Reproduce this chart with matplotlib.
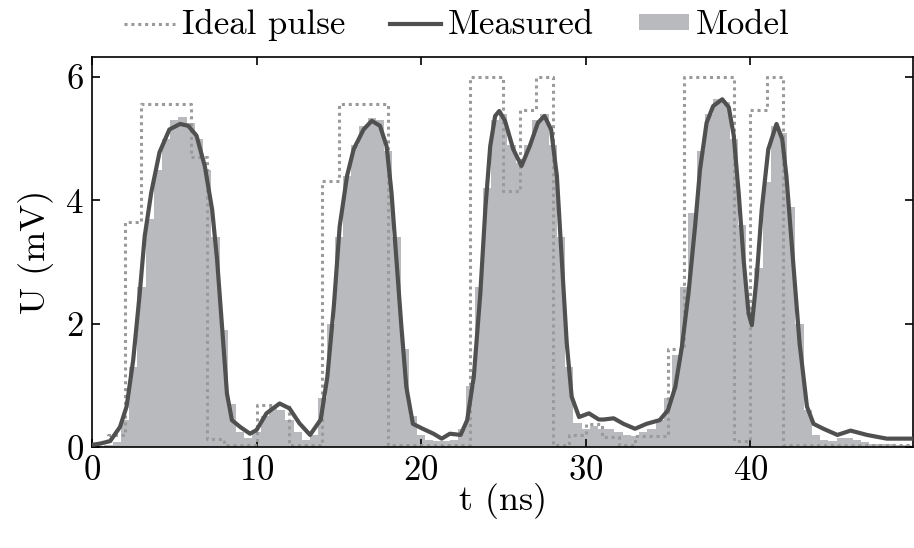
import numpy as np
import matplotlib
matplotlib.use("Agg")
import matplotlib.pyplot as plt
from matplotlib.patches import Patch
from matplotlib.lines import Line2D

plt.rcParams['font.family'] = ['cmr10', 'DejaVu Serif']
plt.rcParams['axes.formatter.use_mathtext'] = True
plt.rcParams['mathtext.fontset'] = 'cm'

# ideal pulse, 1 ns bins starting at t = 0
ideal_u = [0.0, 0.2, 3.65, 5.56, 5.56, 5.56, 4.7, 0.13, 0.03, 0.03,
           0.69, 0.69, 0.03, 0.03, 4.31, 5.56, 5.56, 5.56, 0.03, 0.03,
           0.03, 0.03, 0.03, 6.0, 6.0, 4.15, 5.46, 6.0, 0.03, 0.2,
           0.37, 0.17, 0.03, 0.19, 0.19, 1.6, 6.0, 6.0, 6.0, 0.1,
           5.46, 6.0, 0.03, 0.03, 0.03, 0.03, 0.03, 0.03, 0.03, 0.03]

# measured trace
meas_t = [0, 0.5, 1.1, 1.7, 2.1, 2.5, 2.9, 3.2, 3.6, 4.1, 4.7, 5.35, 5.85,
          6.35, 6.85, 7.3, 7.6, 7.9, 8.2, 8.5, 9.0, 9.6, 10.0, 10.6, 11.4,
          12.0, 12.6, 13.25, 13.9, 14.3, 14.7, 15.05, 15.5, 15.9, 16.5, 17.0,
          17.5, 17.9, 18.2, 18.5, 18.8, 19.1, 19.5, 20.1, 20.75, 21.25, 21.75,
          22.4, 22.8, 23.2, 23.6, 23.9, 24.2, 24.5, 24.75, 25.1, 25.6, 26.1,
          26.6, 27.1, 27.5, 27.9, 28.25, 28.55, 28.85, 29.15, 29.6, 30.2, 30.8,
          31.1, 31.7, 32.3, 33.0, 33.7, 34.5, 35.0, 35.45, 35.85, 36.25, 36.65,
          36.95, 37.35, 37.75, 38.3, 38.7, 39.0, 39.3, 39.6, 39.9, 40.1, 40.4,
          40.7, 41.1, 41.6, 41.95, 42.2, 42.6, 43.0, 43.45, 43.85, 44.45, 45.3,
          46.1, 47.1, 48.3, 49.7, 50]
meas_u = [0.04, 0.06, 0.1, 0.33, 0.66, 1.41, 2.5, 3.42, 4.13, 4.78, 5.15, 5.24,
          5.21, 5.05, 4.56, 3.85, 3.04, 1.96, 0.87, 0.44, 0.33, 0.22, 0.28, 0.55,
          0.71, 0.63, 0.39, 0.2, 0.45, 1.14, 2.3, 3.58, 4.4, 4.83, 5.15, 5.29,
          5.21, 4.88, 4.13, 3.04, 1.96, 0.98, 0.38, 0.3, 0.22, 0.14, 0.22, 0.2,
          0.44, 1.14, 2.5, 3.85, 4.88, 5.37, 5.45, 5.29, 4.83, 4.56, 4.88, 5.26,
          5.37, 5.15, 4.4, 3.04, 1.69, 0.82, 0.49, 0.55, 0.45, 0.45, 0.47, 0.38,
          0.3, 0.38, 0.44, 0.6, 0.98, 1.63, 2.5, 3.58, 4.5, 5.26, 5.53, 5.64,
          5.51, 5.05, 4.12, 3.04, 2.17, 1.98, 2.77, 3.85, 4.83, 5.24, 4.99, 4.4,
          3.04, 1.69, 0.66, 0.38, 0.3, 0.2, 0.27, 0.2, 0.14, 0.14, 0.14]

# model, 0.5 ns bins centred on t = 0, 0.5, 1.0, ...
model_u = [0.02, 0.02, 0.03, 0.08, 0.45, 1.3, 2.6, 3.7, 4.5, 5.0,
           5.3, 5.35, 5.25, 5.0, 4.5, 3.4, 1.9, 0.7, 0.25, 0.15,
           0.25, 0.5, 0.65, 0.6, 0.45, 0.25, 0.12, 0.2, 0.8, 2.0,
           3.4, 4.4, 4.9, 5.2, 5.33, 5.3, 4.8, 3.4, 1.6, 0.5,
           0.2, 0.12, 0.1, 0.1, 0.12, 0.3, 1.0, 2.6, 4.2, 5.3,
           5.4, 4.9, 4.6, 4.9, 5.3, 5.4, 4.9, 3.4, 1.3, 0.4,
           0.3, 0.35, 0.3, 0.3, 0.25, 0.2, 0.18, 0.25, 0.3, 0.45,
           0.8, 1.5, 2.6, 3.8, 4.8, 5.4, 5.65, 5.6, 5.0, 3.6,
           2.2, 2.9, 4.3, 5.2, 5.1, 3.9, 2.0, 0.6, 0.2, 0.12,
           0.1, 0.15, 0.15, 0.12, 0.08, 0.06, 0.05, 0.05, 0.04, 0.04]

ideal_t = np.arange(len(ideal_u) + 1) * 1.0
model_t = np.arange(len(model_u) + 1) * 0.5 - 0.25

c_ideal = '#9a9a9a'
c_meas = '#505050'
c_model = '#b9babd'
dots = (0, (1, 1.25))

fig = plt.figure(figsize=(9.14, 5.48), dpi=100)
ax = fig.add_axes([0.1007, 0.1838, 0.8983, 0.7116])

ax.fill_between(model_t, model_u + [model_u[-1]], step='post',
                color=c_model, lw=0, zorder=1)
ax.step(ideal_t, ideal_u + [ideal_u[-1]], where='post', color=c_ideal,
        lw=2.2, ls=dots, zorder=2)
ax.plot(meas_t, meas_u, color=c_meas, lw=3.0, zorder=3,
        solid_joinstyle='round')

ax.set_xlim(0, 49.9)
ax.set_ylim(0, 6.32)
ax.set_xticks([0, 10, 20, 30, 40])
ax.set_yticks([0, 2, 4, 6])
ax.tick_params(direction='in', top=True, right=True, labelsize=25,
               length=6, width=1.2, pad=6)
for s in ax.spines.values():
    s.set_linewidth(1.2)
ax.set_xlabel('t (ns)', fontsize=26, labelpad=-3)
ax.set_ylabel('U (mV)', fontsize=26, labelpad=8)

handles = [Line2D([], [], color=c_ideal, lw=2.2, ls=dots),
           Line2D([], [], color=c_meas, lw=3.0),
           Patch(facecolor=c_model, edgecolor='none')]
fig.legend(handles, ['Ideal pulse', 'Measured', 'Model'], loc='upper center',
           bbox_to_anchor=(0.5, 1.04), ncol=3, frameon=False, fontsize=25,
           handlelength=1.45, handleheight=0.3, handletextpad=0.2,
           columnspacing=1.3)

fig.savefig('out.png', dpi=100)
